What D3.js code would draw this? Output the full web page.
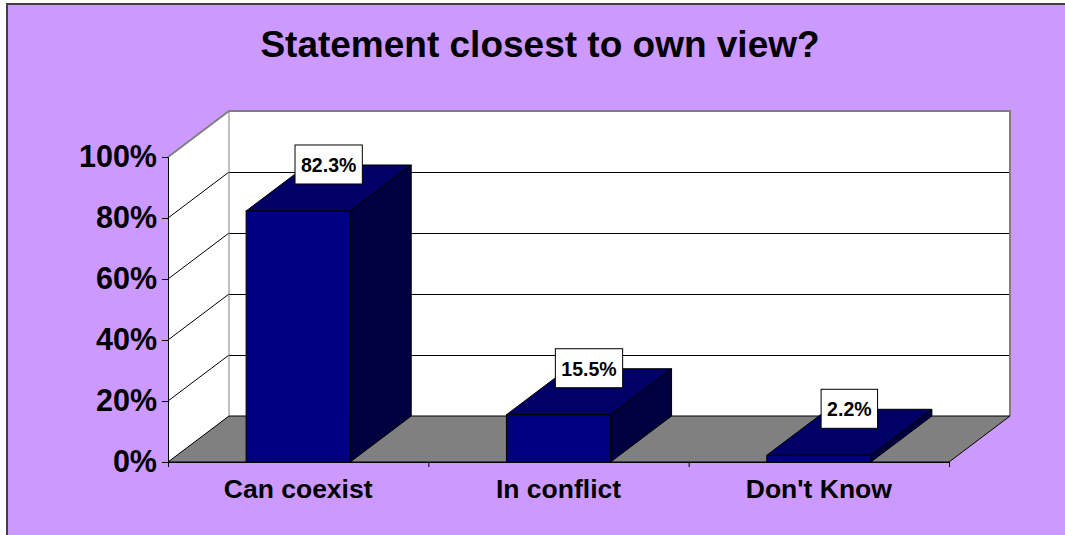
<!DOCTYPE html>
<meta charset="utf-8">
<style>
  body { margin: 0; background: #fff; }
  text { font-family: Arial, "Liberation Sans", sans-serif; font-weight: bold; fill: #000; }
</style>
<svg width="1065" height="535"></svg>
<script src="https://d3js.org/d3.v7.min.js"></script>
<script>

// data
var categories = ["Can coexist", "In conflict", "Don't Know"];
var values = [0.823, 0.155, 0.022];
var labels = ["82.3%", "15.5%", "2.2%"];
var yTicks = [0, 0.2, 0.4, 0.6, 0.8, 1];

var svg = d3.select("svg");

// depth of the 3d box
var dx = 61, dy = -46;

var x = d3.scaleBand()
    .domain(categories)
    .range([168, 949])
    .paddingInner(0.6)
    .paddingOuter(0.3);

var xEdge = d3.scaleLinear().domain([0, categories.length]).range([168, 949]);

var y = d3.scaleLinear().domain([0, 1]).range([462, 157]);

// chart background
svg.append("rect")
    .attr("x", 7).attr("y", 4)
    .attr("width", 1100).attr("height", 600)
    .attr("fill", "#cc99ff")
    .attr("stroke", "#404040")
    .attr("stroke-width", 2);

svg.append("text")
    .attr("x", 540).attr("y", 57)
    .attr("text-anchor", "middle")
    .attr("font-size", 37)
    .text("Statement closest to own view?");

var x0 = xEdge.range()[0], x1 = xEdge.range()[1];

// back wall
svg.append("rect")
    .attr("x", x0 + dx).attr("y", y(1) + dy)
    .attr("width", x1 - x0).attr("height", y(0) - y(1))
    .attr("fill", "#fff");

// side wall
svg.append("path")
    .attr("d", d3.line()([[x0, y(0)], [x0, y(1)], [x0 + dx, y(1) + dy], [x0 + dx, y(0) + dy]]))
    .attr("fill", "#fff");

// gridlines
var grid = svg.append("g");
grid.selectAll("line.back")
  .data(yTicks.slice(1, -1))
  .enter().append("line")
    .attr("x1", x0 + dx).attr("x2", x1 + dx)
    .attr("y1", function(d) { return y(d) + dy + 0.5; })
    .attr("y2", function(d) { return y(d) + dy + 0.5; })
    .attr("stroke", "#000");
grid.selectAll("line.side")
  .data(yTicks.slice(1, -1))
  .enter().append("line")
    .attr("x1", x0).attr("x2", x0 + dx)
    .attr("y1", function(d) { return y(d); })
    .attr("y2", function(d) { return y(d) + dy; })
    .attr("stroke", "#000");

// wall borders
svg.append("path")
    .attr("d", d3.line()([[x0, y(1)], [x0 + dx, y(1) + dy], [x1 + dx, y(1) + dy], [x1 + dx, y(0) + dy]]))
    .attr("fill", "none")
    .attr("stroke", "#808080")
    .attr("stroke-width", 2);
svg.append("line")
    .attr("x1", x0 + dx).attr("x2", x0 + dx)
    .attr("y1", y(1) + dy).attr("y2", y(0) + dy)
    .attr("stroke", "#808080");

// floor
svg.append("path")
    .attr("d", d3.line()([[x0, y(0)], [x1, y(0)], [x1 + dx, y(0) + dy], [x0 + dx, y(0) + dy]]) + "Z")
    .attr("fill", "#808080")
    .attr("stroke", "#000");

// bars
var bars = svg.append("g").selectAll("g")
  .data(values)
  .enter().append("g");

bars.append("path")   // top
    .attr("d", function(d, i) {
      var a = x(categories[i]), b = a + x.bandwidth(), t = y(d);
      return d3.line()([[a, t], [b, t], [b + dx, t + dy], [a + dx, t + dy]]) + "Z";
    })
    .attr("fill", "#000066").attr("stroke", "#000");

bars.append("path")   // side
    .attr("d", function(d, i) {
      var b = x(categories[i]) + x.bandwidth(), t = y(d);
      return d3.line()([[b, t], [b + dx, t + dy], [b + dx, y(0) + dy], [b, y(0)]]) + "Z";
    })
    .attr("fill", "#000040").attr("stroke", "#000");

bars.append("rect")   // front
    .attr("x", function(d, i) { return x(categories[i]); })
    .attr("y", function(d) { return y(d); })
    .attr("width", x.bandwidth())
    .attr("height", function(d) { return y(0) - y(d); })
    .attr("fill", "#000080").attr("stroke", "#000");

// data labels
var lab = svg.append("g").selectAll("g")
  .data(values)
  .enter().append("g")
    .attr("transform", function(d, i) {
      var cx = x(categories[i]) + x.bandwidth() / 2 + dx / 2;
      var cy = y(d) + dy / 2 - 4;
      return "translate(" + cx + "," + cy + ")";
    });

lab.append("text")
    .attr("text-anchor", "middle")
    .attr("y", -12)
    .attr("font-size", 19.5)
    .text(function(d, i) { return labels[i]; })
    .each(function() {
      var bb = this.getBBox();
      d3.select(this.parentNode).insert("rect", "text")
        .attr("x", -bb.width / 2 - 6).attr("y", -39)
        .attr("width", bb.width + 12).attr("height", 39)
        .attr("fill", "#fff").attr("stroke", "#000");
    });

// y axis
svg.append("g")
    .attr("transform", "translate(" + x0 + ",0)")
    .call(d3.axisLeft(y).tickValues(yTicks).tickFormat(d3.format(".0%")).tickSize(6).tickPadding(5))
    .call(function(g) {
      g.selectAll("text").attr("font-size", 30.5).attr("font-family", null);
      g.selectAll("line, path").attr("stroke", "#000");
    });

// x axis ticks
svg.append("g")
    .attr("transform", "translate(0," + y(0) + ")")
    .call(d3.axisBottom(xEdge).ticks(categories.length).tickSize(5).tickFormat(""))
    .call(function(g) { g.selectAll("line, path").attr("stroke", "#000"); });

// category labels
svg.append("g").selectAll("text")
  .data(categories)
  .enter().append("text")
    .attr("x", function(d) { return x(d) + x.bandwidth() / 2; })
    .attr("y", 498)
    .attr("text-anchor", "middle")
    .attr("font-size", 26.5)
    .text(function(d) { return d; });

</script>
